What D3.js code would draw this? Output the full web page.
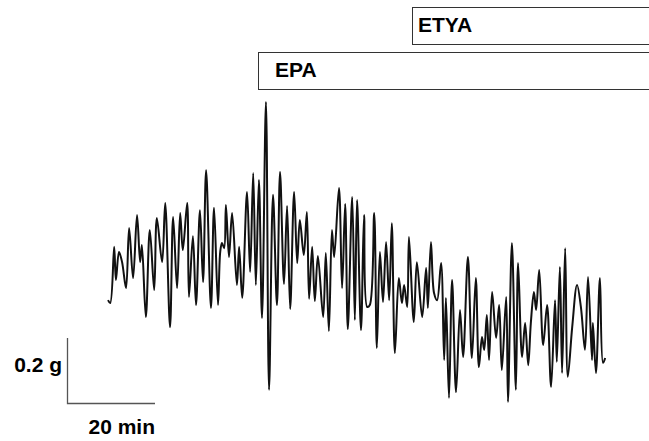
<!DOCTYPE html>
<html>
<head>
<meta charset="utf-8">
<script src="https://cdn.jsdelivr.net/npm/d3@7"></script>
<style>
  html, body { margin: 0; padding: 0; background: #fff; }
  svg { display: block; font-family: "Liberation Sans", Arial, sans-serif; }
</style>
</head>
<body>
<svg id="chart" width="649" height="441"></svg>
<script>
// time of each turning point of the trace (min)
const timeMin = [
  0.0, 0.5, 1.4, 1.8, 2.5, 3.2, 4.1, 4.8, 5.7, 6.6, 7.3, 7.7, 8.6, 9.5, 10.5, 11.1,
  12.3, 13.0, 14.1, 14.8, 15.7, 16.4, 17.0, 18.0, 18.4, 19.3, 20.0, 20.9, 21.6, 22.3,
  23.4, 24.1, 25.0, 25.5, 25.9, 26.4, 26.8, 27.5, 28.2, 29.3, 29.8, 30.5, 31.6, 32.3,
  33.0, 33.6, 34.3, 35.0, 35.9, 36.6, 37.5, 38.4, 39.1, 40.0, 40.7, 41.4, 42.3, 43.0,
  43.6, 44.5, 45.2, 45.7, 46.4, 47.0, 47.7, 48.9, 49.5, 50.2, 50.9, 51.4, 52.5, 53.2,
  53.9, 54.5, 55.5, 56.1, 56.6, 57.5, 58.2, 58.9, 59.5, 60.5, 61.1, 61.8, 62.5, 63.2,
  63.9, 64.5, 65.2, 66.1, 66.8, 67.3, 68.0, 68.4, 69.5, 70.2, 71.4, 72.3, 72.7, 73.4,
  74.1, 74.8, 75.7, 76.4, 76.8, 77.5, 78.2, 79.1, 80.0, 80.7, 81.8, 82.7, 83.6, 84.3,
  85.0, 85.5, 86.1, 86.6, 87.3, 88.2, 88.9, 89.5, 90.5, 90.9, 91.8, 92.7, 93.2, 94.1,
  94.8, 95.5, 96.1, 96.8, 97.3, 98.0, 98.9, 99.8, 100.7, 101.6, 102.0, 102.7, 103.2,
  103.9, 104.5, 105.5, 106.6, 107.5, 108.4, 109.1, 110.0, 110.2, 110.9, 111.8, 112.5, 113.0
];

// tension at those points (g)
const tensionG = [
  0.338, 0.329, 0.502, 0.400, 0.486, 0.455, 0.375, 0.560, 0.406, 0.600, 0.455, 0.508, 0.286, 0.554, 0.369, 0.591,
  0.455, 0.637, 0.255, 0.594, 0.375, 0.606, 0.492, 0.637, 0.348, 0.535, 0.323, 0.615, 0.394, 0.738,
  0.314, 0.622, 0.323, 0.486, 0.514, 0.498, 0.631, 0.471, 0.606, 0.385, 0.502, 0.345, 0.671, 0.425,
  0.729, 0.385, 0.708, 0.283, 0.948, 0.062, 0.662, 0.323, 0.732, 0.388, 0.628, 0.311, 0.671, 0.452,
  0.585, 0.477, 0.609, 0.342, 0.502, 0.335, 0.474, 0.286, 0.483, 0.243, 0.554, 0.471, 0.683, 0.375,
  0.634, 0.249, 0.655, 0.277, 0.646, 0.246, 0.600, 0.317, 0.323, 0.606, 0.191, 0.486, 0.332, 0.517,
  0.338, 0.575, 0.175, 0.406, 0.329, 0.385, 0.317, 0.532, 0.271, 0.455, 0.286, 0.437, 0.314, 0.517,
  0.360, 0.338, 0.452, 0.154, 0.345, 0.037, 0.400, 0.055, 0.308, 0.163, 0.471, 0.160, 0.406, 0.132,
  0.225, 0.185, 0.292, 0.154, 0.363, 0.222, 0.323, 0.123, 0.348, 0.025, 0.514, 0.062, 0.452, 0.163,
  0.268, 0.138, 0.268, 0.363, 0.308, 0.431, 0.200, 0.323, 0.071, 0.338, 0.148, 0.440, 0.114,
  0.498, 0.102, 0.255, 0.385, 0.314, 0.185, 0.409, 0.154, 0.268, 0.114, 0.406, 0.145, 0.160
];

// drug additions (min from start of trace)
const drugNames = ["EPA", "ETYA"];
const drugStart = [34.1, 69.1];

// calibration bars
const barTension = 0.2;   // g
const barTime = 20;       // min
const barTensionLabel = "0.2 g";
const barTimeLabel = "20 min";

const svg = d3.select("#chart");
const width = 649;

const x = d3.scaleLinear().domain([0, 113]).range([108, 605.2]);
const y = d3.scaleLinear().domain([0, 1]).range([410, 85]);

// drug boxes, open to the right edge
const boxTop = [52, 7];
const boxH = 37;
const boxes = svg.selectAll("g.drug")
  .data(drugNames.map((d, i) => ({ name: d, t: drugStart[i], top: boxTop[i] })))
  .enter()
  .append("g")
  .attr("class", "drug");

boxes.append("rect")
  .attr("x", d => Math.round(x(d.t)) + 0.5)
  .attr("y", d => d.top + 0.5)
  .attr("width", d => width + 10 - x(d.t))
  .attr("height", boxH)
  .attr("fill", "none")
  .attr("stroke", "#333")
  .attr("stroke-width", 1);

boxes.append("text")
  .attr("x", d => x(d.t) + (d.name === "EPA" ? 17 : 6))
  .attr("y", d => d.top + 25)
  .attr("font-size", 21)
  .attr("font-weight", "bold")
  .attr("fill", "#000")
  .text(d => d.name);

// trace
const pts = timeMin.map((t, i) => [t, tensionG[i]]);
const line = d3.line()
  .x(d => x(d[0]))
  .y(d => y(d[1]))
  .curve(d3.curveCatmullRom.alpha(0.5));

svg.append("path")
  .datum(pts)
  .attr("d", line)
  .attr("fill", "none")
  .attr("stroke", "#111")
  .attr("stroke-width", 2)
  .attr("stroke-linejoin", "round");

// calibration bars
const bx = 67, by = 403;
const barW = x(barTime) - x(0);
const barH = y(0) - y(barTension);

svg.append("path")
  .attr("d", `M${bx + 0.5},${by - barH}V${by + 0.5}H${bx + barW}`)
  .attr("fill", "none")
  .attr("stroke", "#555")
  .attr("stroke-width", 1.3);

svg.append("text")
  .attr("x", bx - 5)
  .attr("y", by - 31)
  .attr("text-anchor", "end")
  .attr("font-size", 21)
  .attr("font-weight", "bold")
  .text(barTensionLabel);

svg.append("text")
  .attr("x", bx + barW)
  .attr("y", 434)
  .attr("text-anchor", "end")
  .attr("font-size", 21)
  .attr("font-weight", "bold")
  .text(barTimeLabel);
</script>
</body>
</html>
